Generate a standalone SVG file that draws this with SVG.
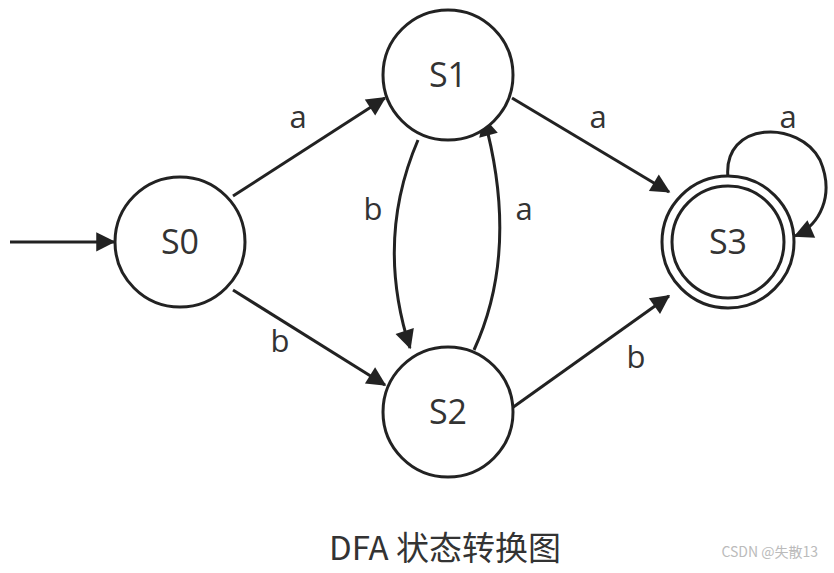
<svg xmlns="http://www.w3.org/2000/svg" width="834" height="573" viewBox="0 0 834 573">
<style>
.n{fill:#fff;stroke:#222;stroke-width:3}
.e{fill:none;stroke:#222;stroke-width:3}
.t{font-family:"Open Sans","Noto Sans",sans-serif;font-size:34px;fill:#333;text-anchor:middle}
.l{font-family:"Open Sans","Noto Sans",sans-serif;font-size:31px;fill:#333;text-anchor:middle}
</style>
<defs><marker id="ar" viewBox="0 0 10 10" refX="9" refY="5" markerWidth="8" markerHeight="8" markerUnits="userSpaceOnUse" orient="auto" style="overflow:visible"><path d="M0,0 L10,5 L0,10 z" fill="#222" transform="scale(2.4) translate(-5.5,-3)"/></marker></defs>
<rect width="834" height="573" fill="#fff"/>
<g id="connectors">
<path class="e" d="M10,242 L114,242" marker-end="url(#ar)"/>
<path class="e" d="M233,196 L385,98" marker-end="url(#ar)"/>
<path class="e" d="M233,290 L385,385" marker-end="url(#ar)"/>
<path class="e" d="M512,98 L669,192" marker-end="url(#ar)"/>
<path class="e" d="M512,408 L669,296" marker-end="url(#ar)"/>
<path class="e" d="M418,140 Q375,240 410,348" marker-end="url(#ar)"/>
<path class="e" d="M474,350 Q520,250 484,118" marker-end="url(#ar)"/>
<path class="e" d="M728,178 C722,120 800,120 820,160 C835,195 820,225 795,236" marker-end="url(#ar)"/>
<text class="l" x="298" y="128">a</text>
<text class="l" x="280" y="352">b</text>
<text class="l" x="598" y="128">a</text>
<text class="l" x="636" y="368">b</text>
<text class="l" x="373" y="220">b</text>
<text class="l" x="524" y="220">a</text>
<text class="l" x="788" y="128">a</text>
</g>
<g id="S0"><circle class="n" cx="180" cy="242" r="65"/><text class="t" x="180" y="254">S0</text></g>
<g id="S1"><circle class="n" cx="448" cy="75" r="65"/><text class="t" x="448" y="87">S1</text></g>
<g id="S2"><circle class="n" cx="448" cy="412" r="65"/><text class="t" x="448" y="424">S2</text></g>
<g id="S3"><circle class="n" cx="728" cy="242" r="66"/><circle class="n" cx="728" cy="242" r="56"/><text class="t" x="728" y="254">S3</text></g>
<text x="445" y="560" style="font-family:'Noto Sans CJK SC','Noto Sans',sans-serif;font-size:33px;fill:#333;text-anchor:middle">DFA 状态转换图</text>
<text x="818" y="557" style="font-family:'Noto Sans CJK SC','Noto Sans',sans-serif;font-size:14px;fill:#bbb;text-anchor:end">CSDN @失散13</text>
</svg>
